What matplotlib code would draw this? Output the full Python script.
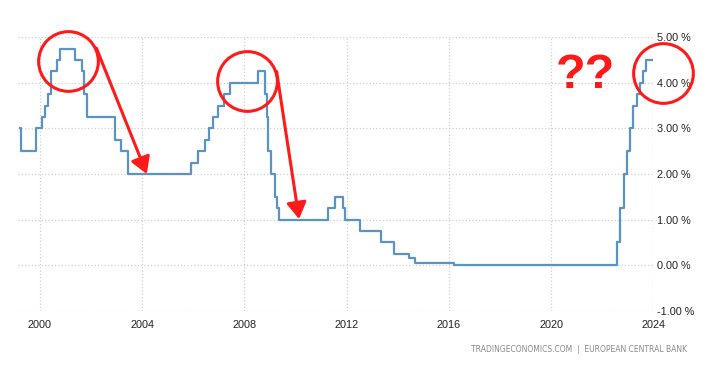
import matplotlib.pyplot as plt
import pandas as pd
from matplotlib.ticker import FuncFormatter

"""
ECB main refinancing rate, step chart with red annotations
"""

# Rate decisions (date the new rate applies from) and the rate in percent
dates = ['1999-03-15', '1999-04-09', '1999-11-05', '2000-02-04', '2000-03-17',
         '2000-04-28', '2000-06-09', '2000-09-06', '2000-10-11', '2001-05-11',
         '2001-08-31', '2001-09-18', '2001-11-09', '2002-12-06', '2003-03-07',
         '2003-06-06', '2005-12-06', '2006-03-08', '2006-06-15', '2006-08-09',
         '2006-10-11', '2006-12-13', '2007-03-14', '2007-06-13', '2008-07-09',
         '2008-10-15', '2008-11-12', '2008-12-10', '2009-01-21', '2009-03-11',
         '2009-04-08', '2009-05-13', '2011-04-13', '2011-07-13', '2011-11-09',
         '2011-12-14', '2012-07-11', '2013-05-08', '2013-11-13', '2014-06-11',
         '2014-09-10', '2016-03-16', '2022-07-27', '2022-09-14', '2022-11-02',
         '2022-12-21', '2023-02-08', '2023-03-22', '2023-05-10', '2023-06-21',
         '2023-08-02', '2023-09-20', '2023-12-31']
rates = [3.00, 2.50, 3.00, 3.25, 3.50,
         3.75, 4.25, 4.50, 4.75, 4.50,
         4.25, 3.75, 3.25, 2.75, 2.50,
         2.00, 2.25, 2.50, 2.75, 3.00,
         3.25, 3.50, 3.75, 4.00, 4.25,
         3.75, 3.25, 2.50, 2.00, 1.50,
         1.25, 1.00, 1.25, 1.50, 1.25,
         1.00, 0.75, 0.50, 0.25, 0.15,
         0.05, 0.00, 0.50, 1.25, 2.00,
         2.50, 3.00, 3.50, 3.75, 4.00,
         4.25, 4.50, 4.50]

x_ticks = [2000, 2004, 2008, 2012, 2016, 2020, 2024]
y_ticks = [-1, 0, 1, 2, 3, 4, 5]

# annotation anchors (year, percent)
circles = [(2001.08, 4.47), (2008.11, 4.04), (2024.37, 4.21)]
arrows = [((2002.21, 4.76), (2004.18, 2.00)), ((2009.26, 4.25), (2010.14, 1.01))]
question_pos = (2021.33, 4.17)

# decimal years for plotting
d = pd.to_datetime(pd.Series(dates))
years = d.dt.year + (d.dt.dayofyear - 1) / 365.25

fig = plt.figure(figsize=(7.1, 3.76), dpi=100)
ax = fig.add_axes([18 / 710, 1 - 310.7 / 376, (653.3 - 18) / 710, (310.7 - 37.3) / 376])

ax.step(years, rates, where='post', color='#5b93c6', lw=1.6, zorder=3)

ax.set_xlim(1999.14, 2024.0)
ax.set_ylim(-1, 5)
ax.set_xticks(x_ticks)
ax.set_yticks(y_ticks)
ax.yaxis.tick_right()
ax.yaxis.set_major_formatter(FuncFormatter(lambda v, p: '%.2f %%' % v))
ax.tick_params(length=0, labelsize=7.8, colors='#222222')
for lbl in ax.get_xticklabels() + ax.get_yticklabels():
    lbl.set_family('Liberation Sans')
ax.tick_params(axis='x', pad=7)
ax.tick_params(axis='y', pad=3)
ax.grid(True, color='#d0d0d0', linestyle=':', lw=0.9)
for s in ax.spines.values():
    s.set_visible(False)
ax.axvline(2024.0, color='#d0d0d0', linestyle=':', lw=0.9)

# red annotations
for cx, cy in circles:
    ax.plot([cx], [cy], marker='o', markersize=43, fillstyle='none',
            markeredgecolor='#ff1a1a', markeredgewidth=2.2, clip_on=False, zorder=5)
for (x0, y0), (x1, y1) in arrows:
    ax.annotate('', xy=(x1, y1), xytext=(x0, y0),
                arrowprops=dict(arrowstyle='-|>,head_length=1.0,head_width=0.6',
                                color='#ff1a1a', lw=2.2, shrinkA=0, shrinkB=0),
                zorder=5)
ax.text(question_pos[0], question_pos[1], '??', color='#ff1a1a', fontsize=35,
        fontweight='bold', family='Liberation Sans', ha='center', va='center')

fig.text(687 / 710, 1 - 350 / 376, 'TRADINGECONOMICS.COM  |  EUROPEAN CENTRAL BANK',
         ha='right', va='center', fontsize=5.5, color='#8a8a8a')

fig.savefig('out.png', dpi=100)
